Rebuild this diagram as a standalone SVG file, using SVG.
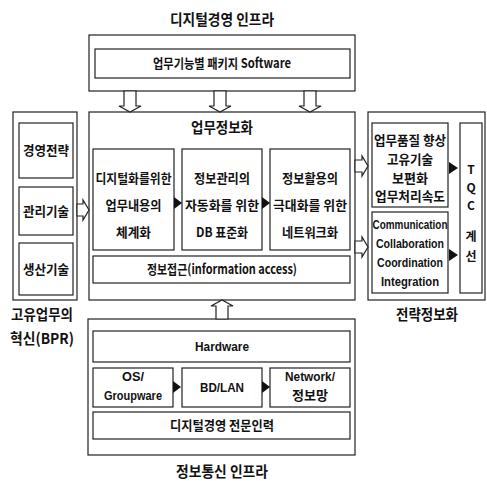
<svg xmlns="http://www.w3.org/2000/svg" width="487" height="481" viewBox="0 0 487 481">
<style>
rect{fill:#fff;stroke:#222;stroke-width:1.2}
text{font-family:"Noto Sans CJK KR","Liberation Sans",sans-serif;fill:#111;text-anchor:middle;font-weight:bold}
.t13{font-size:13px}
.t12{font-size:12px}
.t15{font-size:15px}
.en{font-family:"Liberation Sans","Noto Sans CJK KR",sans-serif;font-size:13px}
.ha{fill:#fff;stroke:#222;stroke-width:1.2}
.tri{fill:#111}
</style>
<rect x="0" y="0" width="487" height="481" style="stroke:none"/>
<text class="t15" x="222" y="25" textLength="104" lengthAdjust="spacingAndGlyphs">디지털경영 인프라</text>
<text class="t15" x="42" y="320" textLength="62" lengthAdjust="spacingAndGlyphs">고유업무의</text>
<text class="t15" x="42" y="344" textLength="64" lengthAdjust="spacingAndGlyphs">혁신(BPR)</text>
<text class="t15" x="427" y="320" textLength="62" lengthAdjust="spacingAndGlyphs">전략정보화</text>
<text class="t15" x="222" y="477" textLength="92" lengthAdjust="spacingAndGlyphs">정보통신 인프라</text>

<g id="top-infra">
<rect x="89" y="35" width="266" height="56"/>
<rect x="95" y="49" width="255" height="29"/>
<text class="t13" x="222" y="68" textLength="138" lengthAdjust="spacingAndGlyphs">업무기능별 패키지 Software</text>
</g>

<g id="main">
<rect x="89" y="112" width="266" height="188"/>
<text class="t15" x="222" y="133" textLength="62" lengthAdjust="spacingAndGlyphs">업무정보화</text>
<rect x="93" y="149" width="81" height="101"/>
<text class="t13" x="133.5" y="183" textLength="76" lengthAdjust="spacingAndGlyphs">디지털화를위한</text>
<text class="t13" x="133.5" y="210" textLength="56" lengthAdjust="spacingAndGlyphs">업무내용의</text>
<text class="t13" x="133.5" y="237" textLength="35" lengthAdjust="spacingAndGlyphs">체계화</text>
<rect x="182" y="149" width="80" height="101"/>
<text class="t13" x="222" y="183" textLength="56" lengthAdjust="spacingAndGlyphs">정보관리의</text>
<text class="t13" x="222" y="210" textLength="74" lengthAdjust="spacingAndGlyphs">자동화를 위한</text>
<text class="t13" x="222" y="237" textLength="52" lengthAdjust="spacingAndGlyphs">DB 표준화</text>
<rect x="270" y="149" width="80" height="101"/>
<text class="t13" x="310" y="183" textLength="56" lengthAdjust="spacingAndGlyphs">정보활용의</text>
<text class="t13" x="310" y="210" textLength="74" lengthAdjust="spacingAndGlyphs">극대화를 위한</text>
<text class="t13" x="310" y="237" textLength="56" lengthAdjust="spacingAndGlyphs">네트워크화</text>
<rect x="93" y="256" width="257" height="27"/>
<text class="t13" x="222" y="274" textLength="150" lengthAdjust="spacingAndGlyphs">정보접근(information access)</text>
</g>

<g id="bpr">
<rect x="13" y="112" width="64" height="188"/>
<rect x="19" y="123" width="54" height="55"/>
<text class="t13" x="46" y="155" textLength="46" lengthAdjust="spacingAndGlyphs">경영전략</text>
<rect x="19" y="187" width="54" height="48"/>
<text class="t13" x="46" y="216" textLength="46" lengthAdjust="spacingAndGlyphs">관리기술</text>
<rect x="19" y="243" width="54" height="52"/>
<text class="t13" x="46" y="274" textLength="46" lengthAdjust="spacingAndGlyphs">생산기술</text>
</g>

<g id="strategy">
<rect x="368" y="112" width="117" height="188"/>
<rect x="372" y="123" width="76" height="84"/>
<text class="t13" x="410" y="145" textLength="72" lengthAdjust="spacingAndGlyphs">업무품질 향상</text>
<text class="t13" x="410" y="164" textLength="46" lengthAdjust="spacingAndGlyphs">고유기술</text>
<text class="t13" x="410" y="183" textLength="36" lengthAdjust="spacingAndGlyphs">보편화</text>
<text class="t13" x="410" y="201" textLength="70" lengthAdjust="spacingAndGlyphs">업무처리속도</text>
<rect x="372" y="212" width="76" height="81"/>
<text class="en" x="410" y="229" textLength="75" lengthAdjust="spacingAndGlyphs">Communication</text>
<text class="en" x="410" y="248" textLength="68" lengthAdjust="spacingAndGlyphs">Collaboration</text>
<text class="en" x="410" y="267" textLength="66" lengthAdjust="spacingAndGlyphs">Coordination</text>
<text class="en" x="410" y="286" textLength="58" lengthAdjust="spacingAndGlyphs">Integration</text>
<rect x="460" y="123" width="22" height="170"/>
<text class="t12" x="471" y="174">T</text>
<text class="t12" x="471" y="192">Q</text>
<text class="t12" x="471" y="210">C</text>
<text class="t12" x="471" y="241">계</text>
<text class="t12" x="471" y="261">선</text>
</g>

<g id="bottom-infra">
<rect x="88" y="319" width="267" height="136"/>
<rect x="93" y="331" width="257" height="31"/>
<text class="en" x="222" y="351" textLength="54" lengthAdjust="spacingAndGlyphs">Hardware</text>
<rect x="93" y="368" width="80" height="39"/>
<text class="en" x="133" y="381" textLength="22" lengthAdjust="spacingAndGlyphs">OS/</text>
<text class="en" x="133" y="400" textLength="58" lengthAdjust="spacingAndGlyphs">Groupware</text>
<rect x="182" y="368" width="80" height="39"/>
<text class="en" x="222" y="392" textLength="44" lengthAdjust="spacingAndGlyphs">BD/LAN</text>
<rect x="270" y="368" width="80" height="39"/>
<text class="en" x="310" y="381" textLength="50" lengthAdjust="spacingAndGlyphs">Network/</text>
<text class="t13" x="310" y="400" textLength="36" lengthAdjust="spacingAndGlyphs">정보망</text>
<rect x="93" y="412" width="257" height="27"/>
<text class="t13" x="222" y="430" textLength="104" lengthAdjust="spacingAndGlyphs">디지털경영 전문인력</text>
</g>

<g id="connectors">
<path class="ha" d="M124,91 H136 V106 H141 L130,112 L119,106 H124 Z"/>
<path class="ha" d="M214,91 H226 V106 H231 L220,112 L209,106 H214 Z"/>
<path class="ha" d="M304,91 H316 V106 H321 L310,112 L299,106 H304 Z"/>
<path class="ha" d="M216,319 H228 V306 H233 L222,300 L211,306 H216 Z"/>
<path class="ha" d="M77,204 V216 H83 V220 L89,210 L83,200 V204 Z"/>
<path class="ha" d="M355,160 V172 H362 V176 L368,166 L362,156 V160 Z"/>
<path class="ha" d="M355,241 V253 H362 V257 L368,247 L362,237 V241 Z"/>
<path class="tri" d="M174,197 L182,203 L174,209 Z"/>
<path class="tri" d="M262,197 L270,203 L262,209 Z"/>
<path class="tri" d="M449,162 L458,168 L449,174 Z"/>
<path class="tri" d="M449,249 L458,255 L449,261 Z"/>
<path class="tri" d="M173,381 L181,387 L173,393 Z"/>
<path class="tri" d="M262,381 L270,387 L262,393 Z"/>
</g>
</svg>
